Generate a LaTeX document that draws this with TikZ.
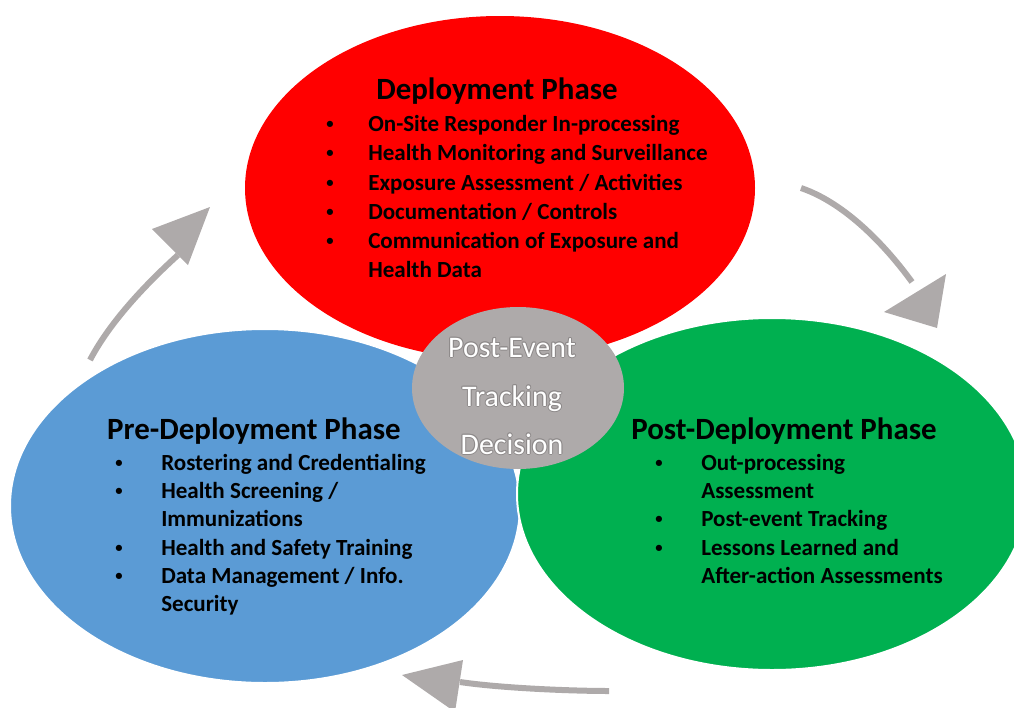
\documentclass[tikz,border=0pt]{standalone}
\usepackage{fontspec}
\setmainfont{Carlito}
\usetikzlibrary{shapes.geometric}
\definecolor{dred}{HTML}{FF0000}
\definecolor{dblue}{HTML}{5B9BD5}
\definecolor{dgreen}{HTML}{00B050}
\definecolor{dgray}{HTML}{AEAAAA}
\definecolor{tgray}{HTML}{8E8A8A}
\begin{document}
\begin{tikzpicture}[x=0.75pt,y=-0.75pt,
  phase/.style={ellipse,inner sep=0pt,outer sep=0pt,minimum width=382.5pt},
  arr/.style={draw=dgray,line width=4.5pt},
  head/.style={fill=dgray},
  ttl/.style={font=\fontsize{23.2}{27}\selectfont\bfseries,anchor=base,inner sep=0pt},
  itm/.style={font=\fontsize{17.3}{20}\selectfont\bfseries,anchor=base west,inner sep=0pt},
  bul/.style={font=\fontsize{11}{13}\selectfont\bfseries,anchor=center,inner sep=0pt},
  ctr/.style={font=\fontsize{22.4}{26}\selectfont,text=white,anchor=base,inner sep=0pt},
  ctrsh/.style={font=\fontsize{22.4}{26}\selectfont,text=tgray,anchor=base,inner sep=0pt}]
\useasboundingbox (0,0) rectangle (1014,707);
\clip (0,0) rectangle (1014,707);
% ellipses
\node[phase,fill=dred,minimum height=258pt] (dep) at (500,188) {};
\node[phase,fill=dblue,draw=white,line width=1.5pt,minimum height=265.5pt] (pre) at (265,506) {};
\node[phase,fill=dgreen,draw=white,line width=1.5pt,minimum height=264pt] (post) at (772,494) {};
\node[ellipse,inner sep=0pt,fill=dgray,minimum width=159pt,minimum height=121.5pt] (track) at (518,388) {};
% arrows
\draw[arr] (801,188) .. controls (845,203) and (885,245) .. (912,282);
\fill[head] (946,274) -- (884,312) -- (937,328) -- cycle;
\draw[arr] (609,691) .. controls (570,691) and (500,688) .. (460,682);
\fill[head] (402,675) -- (463,660) -- (455,712) -- cycle;
\draw[arr] (90,360) .. controls (110,322) and (145,285) .. (178,255);
\fill[head] (210,207) -- (152,229) -- (188,265) -- cycle;
% Deployment
\node[ttl] (t1) at (497,99) {Deployment Phase};
\foreach \y/\b/\t in {131/1/{On-Site Responder In-processing},
  160/1/{Health Monitoring and Surveillance},
  190/1/{Exposure Assessment / Activities},
  219/1/{Documentation / Controls},
  248/1/{Communication of Exposure and},
  277/0/{Health Data}}{
  \node[itm] (d\y) at (368,\y) {\t};
  \ifnum\b=1 \node[bul] (db\y) at (330,\y-6) {•};\fi
}
% Pre-deployment
\node[ttl] (t2) at (254,439) {Pre-Deployment Phase};
\foreach \y/\b/\t in {470/1/{Rostering and Credentialing},
  498/1/{Health Screening /},
  526/0/{Immunizations},
  555/1/{Health and Safety Training},
  583/1/{Data Management / Info.},
  611/0/{Security}}{
  \node[itm] (p\y) at (161,\y) {\t};
  \ifnum\b=1 \node[bul] (pb\y) at (119,\y-6) {•};\fi
}
% Post-deployment
\node[ttl] (t3) at (784,439) {Post-Deployment Phase};
\foreach \y/\b/\t in {470/1/{Out-processing},
  498/0/{Assessment},
  526/1/{Post-event Tracking},
  555/1/{Lessons Learned and},
  583/0/{After-action Assessments}}{
  \node[itm] (q\y) at (701,\y) {\t};
  \ifnum\b=1 \node[bul] (qb\y) at (659,\y-6) {•};\fi
}
% center
\foreach \y/\t [count=\i] in {357/{Post-Event},406/{Tracking},454/{Decision}}{
  \foreach \dx/\dy in {-1/0,1/0,0/-1,0/1,-0.7/-0.7,0.7/0.7,-0.7/0.7,0.7/-0.7}{
    \node[ctrsh] at (512+\dx,\y+\dy) {\t};
  }
  \node[ctr] (c\i) at (512,\y) {\t};
}
\end{tikzpicture}
\end{document}
